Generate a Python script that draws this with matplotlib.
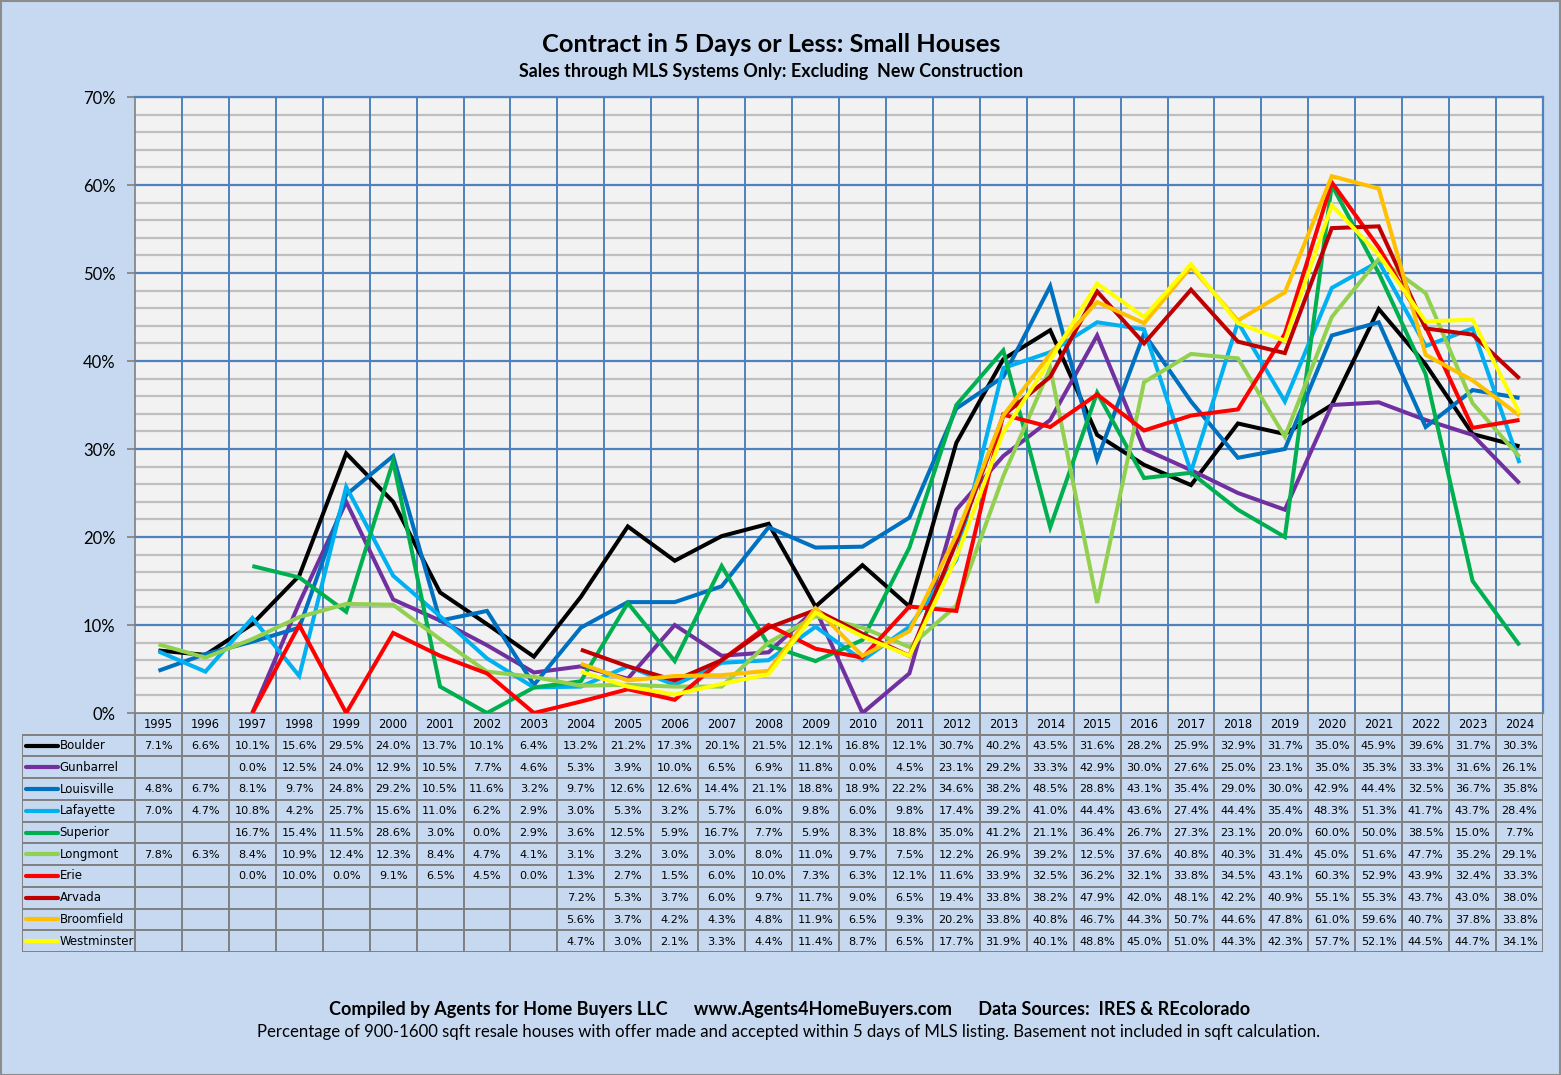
import numpy as np
import matplotlib
matplotlib.use("Agg")
import matplotlib.pyplot as plt
from matplotlib.lines import Line2D
from matplotlib.patches import Rectangle

years = list(range(1995, 2025))
N = np.nan
names = ["Boulder", "Gunbarrel", "Louisville", "Lafayette", "Superior",
         "Longmont", "Erie", "Arvada", "Broomfield", "Westminster"]
colors = ["#000000", "#7030A0", "#0070C0", "#00B0F0", "#00B050",
          "#92D050", "#FF0000", "#C00000", "#FFC000", "#FFFF00"]

boulder = [7.1, 6.6, 10.1, 15.6, 29.5, 24.0, 13.7, 10.1, 6.4, 13.2, 21.2, 17.3, 20.1, 21.5, 12.1,
           16.8, 12.1, 30.7, 40.2, 43.5, 31.6, 28.2, 25.9, 32.9, 31.7, 35.0, 45.9, 39.6, 31.7, 30.3]
gunbarrel = [N, N, 0.0, 12.5, 24.0, 12.9, 10.5, 7.7, 4.6, 5.3, 3.9, 10.0, 6.5, 6.9, 11.8,
             0.0, 4.5, 23.1, 29.2, 33.3, 42.9, 30.0, 27.6, 25.0, 23.1, 35.0, 35.3, 33.3, 31.6, 26.1]
louisville = [4.8, 6.7, 8.1, 9.7, 24.8, 29.2, 10.5, 11.6, 3.2, 9.7, 12.6, 12.6, 14.4, 21.1, 18.8,
              18.9, 22.2, 34.6, 38.2, 48.5, 28.8, 43.1, 35.4, 29.0, 30.0, 42.9, 44.4, 32.5, 36.7, 35.8]
lafayette = [7.0, 4.7, 10.8, 4.2, 25.7, 15.6, 11.0, 6.2, 2.9, 3.0, 5.3, 3.2, 5.7, 6.0, 9.8,
             6.0, 9.8, 17.4, 39.2, 41.0, 44.4, 43.6, 27.4, 44.4, 35.4, 48.3, 51.3, 41.7, 43.7, 28.4]
superior = [N, N, 16.7, 15.4, 11.5, 28.6, 3.0, 0.0, 2.9, 3.6, 12.5, 5.9, 16.7, 7.7, 5.9,
            8.3, 18.8, 35.0, 41.2, 21.1, 36.4, 26.7, 27.3, 23.1, 20.0, 60.0, 50.0, 38.5, 15.0, 7.7]
longmont = [7.8, 6.3, 8.4, 10.9, 12.4, 12.3, 8.4, 4.7, 4.1, 3.1, 3.2, 3.0, 3.0, 8.0, 11.0,
            9.7, 7.5, 12.2, 26.9, 39.2, 12.5, 37.6, 40.8, 40.3, 31.4, 45.0, 51.6, 47.7, 35.2, 29.1]
erie = [N, N, 0.0, 10.0, 0.0, 9.1, 6.5, 4.5, 0.0, 1.3, 2.7, 1.5, 6.0, 10.0, 7.3,
        6.3, 12.1, 11.6, 33.9, 32.5, 36.2, 32.1, 33.8, 34.5, 43.1, 60.3, 52.9, 43.9, 32.4, 33.3]
arvada = [N, N, N, N, N, N, N, N, N, 7.2, 5.3, 3.7, 6.0, 9.7, 11.7,
          9.0, 6.5, 19.4, 33.8, 38.2, 47.9, 42.0, 48.1, 42.2, 40.9, 55.1, 55.3, 43.7, 43.0, 38.0]
broomfield = [N, N, N, N, N, N, N, N, N, 5.6, 3.7, 4.2, 4.3, 4.8, 11.9,
              6.5, 9.3, 20.2, 33.8, 40.8, 46.7, 44.3, 50.7, 44.6, 47.8, 61.0, 59.6, 40.7, 37.8, 33.8]
westminster = [N, N, N, N, N, N, N, N, N, 4.7, 3.0, 2.1, 3.3, 4.4, 11.4,
               8.7, 6.5, 17.7, 31.9, 40.1, 48.8, 45.0, 51.0, 44.3, 42.3, 57.7, 52.1, 44.5, 44.7, 34.1]

series = [boulder, gunbarrel, louisville, lafayette, superior,
          longmont, erie, arvada, broomfield, westminster]

title = "Contract in 5 Days or Less: Small Houses"
subtitle = "Sales through MLS Systems Only: Excluding  New Construction"
footer1 = "Compiled by Agents for Home Buyers LLC      www.Agents4HomeBuyers.com      Data Sources:  IRES & REcolorado"
footer2 = "Percentage of 900-1600 sqft resale houses with offer made and accepted within 5 days of MLS listing. Basement not included in sqft calculation."

BG = "#C6D9F1"
PLOT_BG = "#F2F2F2"
BLUE_GRID = "#4F81BD"
GRAY_GRID = "#BFBFBF"
CELL_EDGE = "#808080"
FONT = "Lato"

W, H = 1561, 1075
fig = plt.figure(figsize=(W / 100, H / 100), dpi=100, facecolor=BG)

def fx(px):
    return px / W

def fy(py):
    return 1 - py / H

# outer border
fig.patches.append(Rectangle((0.5 / W, 0.5 / H), 1 - 1.5 / W, 1 - 1.5 / H,
                             transform=fig.transFigure, fill=False,
                             edgecolor="#8C8C8C", lw=1.5))

L, R, T, B = 135, 1543, 97, 713
ax = fig.add_axes([fx(L), fy(B), fx(R) - fx(L), fy(T) - fy(B)])
ax.set_facecolor(PLOT_BG)
n = len(years)
x = np.arange(n)
ax.set_xlim(-0.5, n - 0.5)
ax.set_ylim(0, 70)

for v in np.arange(2, 70, 2):
    if v % 10 != 0:
        ax.axhline(v, color=GRAY_GRID, lw=1.6, zorder=1)
for v in range(10, 71, 10):
    ax.axhline(v, color=BLUE_GRID, lw=1.6, zorder=2)
for b in np.arange(0.5, n - 0.5, 1):
    ax.axvline(b, color=BLUE_GRID, lw=1.4, zorder=2)

for vals, c in zip(series, colors):
    ax.plot(x, np.array(vals, dtype=float), color=c, lw=2.9, zorder=5,
            solid_joinstyle="miter", solid_capstyle="butt")

ax.set_yticks(range(0, 71, 10))
ax.set_yticklabels([f"{v}%" for v in range(0, 71, 10)], fontsize=12, family=FONT)
ax.tick_params(axis="y", length=6, width=1.2, color="#808080", pad=8)
ax.set_xticks([])
for side in ["left", "bottom"]:
    ax.spines[side].set_color("#808080")
    ax.spines[side].set_linewidth(1.2)
for side in ["top", "right"]:
    ax.spines[side].set_color(BLUE_GRID)
    ax.spines[side].set_linewidth(1.6)

# table
TL, TB = 22, 952
colw = (R - L) / n
label_w = (L - TL) / colw
tax = fig.add_axes([fx(TL), fy(TB), fx(R) - fx(TL), fy(B) - fy(TB)])
tax.set_xlim(-0.5 - label_w, n - 0.5)
nrows = len(names) + 1
tax.set_ylim(nrows, 0)
tax.axis("off")
x0 = -0.5 - label_w

def cell(xl, w, r):
    tax.add_patch(Rectangle((xl, r), w, 1, facecolor=BG, edgecolor=CELL_EDGE,
                            lw=1.4, zorder=1))

for j, yr in enumerate(years):
    cell(j - 0.5, 1, 0)
    tax.text(j, 0.55, str(yr), ha="center", va="center", fontsize=8.3,
             family="DejaVu Sans", color="#000000")

for i, (nm, vals, c) in enumerate(zip(names, series, colors)):
    r = i + 1
    cell(x0, label_w, r)
    tax.add_line(Line2D([x0 + 0.09, x0 + 0.76], [r + 0.5, r + 0.5], color=c, lw=3,
                        solid_capstyle="round", zorder=3))
    tax.text(x0 + 0.8, r + 0.5, nm, ha="left", va="center", fontsize=8.5,
             family="DejaVu Sans")
    for j, v in enumerate(vals):
        cell(j - 0.5, 1, r)
        if not np.isnan(v):
            tax.text(j, r + 0.52, f"{v:.1f}%", ha="center", va="center",
                     fontsize=8.1, family="DejaVu Sans")

fig.text(fx(771), fy(44), title, ha="center", va="center", fontsize=18.3,
         fontweight="bold", family=FONT)
fig.text(fx(771), fy(72), subtitle, ha="center", va="center", fontsize=12.9,
         fontweight="bold", family=FONT)
fig.text(fx(790), fy(1010), footer1, ha="center", va="center", fontsize=13,
         fontweight="bold", family=FONT)
fig.text(fx(789), fy(1032), footer2, ha="center", va="center", fontsize=12.1,
         family=FONT)

fig.savefig("out.png", dpi=100, facecolor=BG)
